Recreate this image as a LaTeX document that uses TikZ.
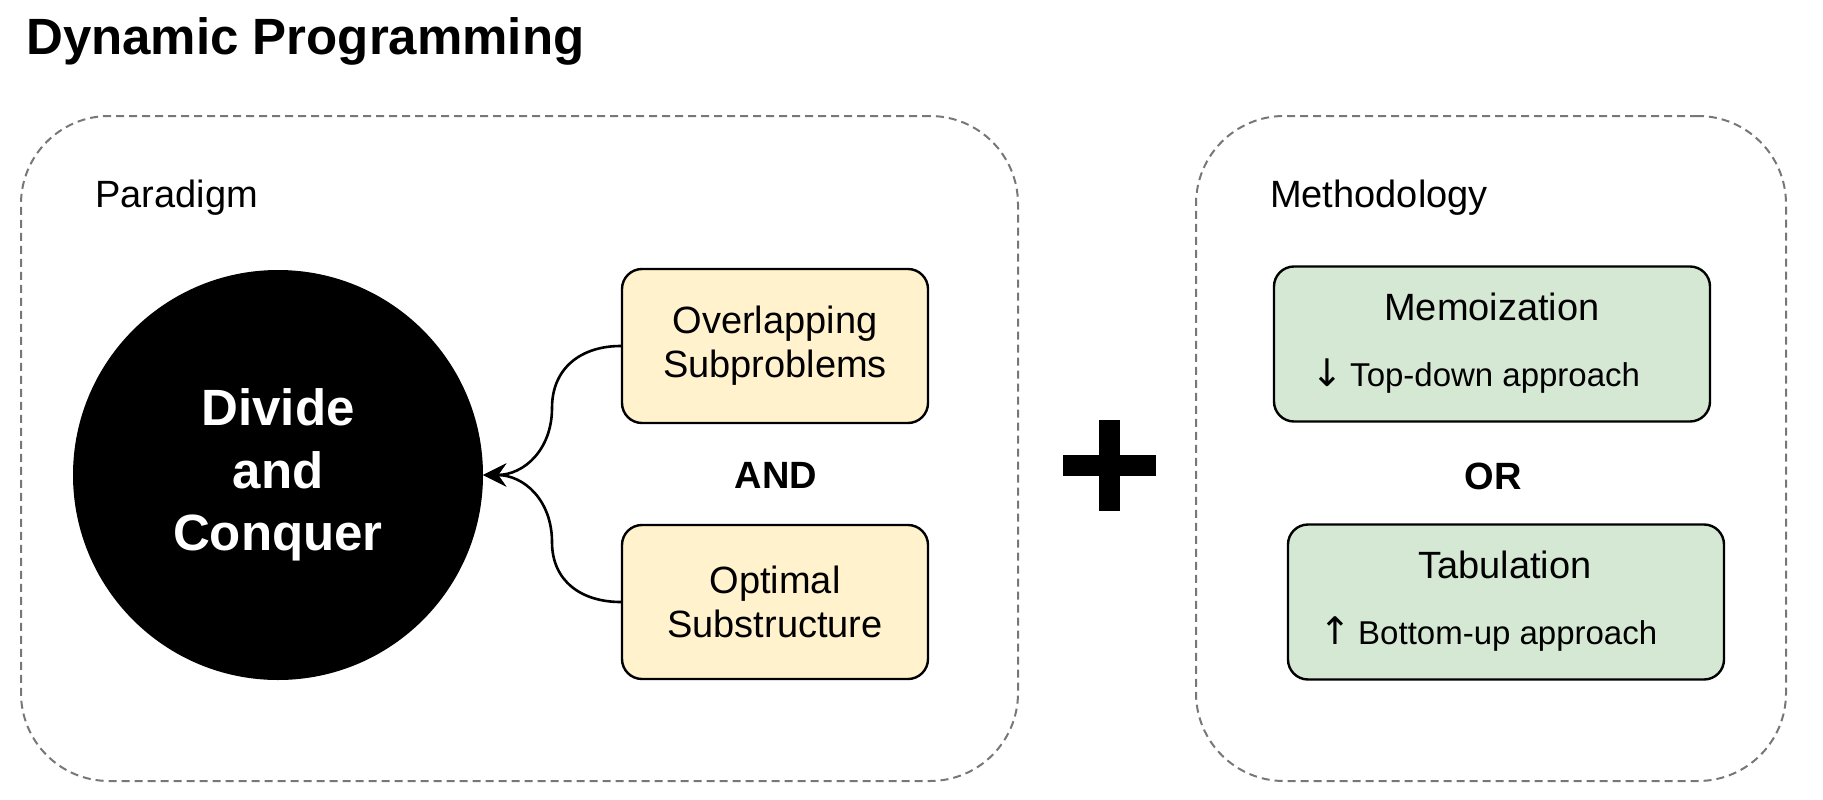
\documentclass[tikz,border=0pt]{standalone}
\usepackage{fontspec}
\setmainfont{Liberation Sans}
\newfontfamily\arrowfont{DejaVu Sans}
\usetikzlibrary{arrows.meta}
\definecolor{dashgray}{HTML}{777777}
\definecolor{yfill}{HTML}{FFF2CC}
\definecolor{gfill}{HTML}{D5E8D4}
\begin{document}
\begin{tikzpicture}[x=1pt,y=-1pt,
  panel/.style={draw=dashgray, line width=2pt, dash pattern=on 8pt off 5pt, rounded corners=88pt, inner sep=0pt},
  ybox/.style={draw=black, line width=2.4pt, fill=yfill, rounded corners=20pt, minimum width=306pt, minimum height=154pt, align=center, font=\fontsize{38}{44}\selectfont, inner sep=0pt},
  gbox/.style={draw=black, line width=2.4pt, fill=gfill, rounded corners=20pt, minimum width=436pt, minimum height=155pt, inner sep=0pt},
  lbl/.style={font=\fontsize{38}{44}\selectfont, inner sep=0pt},
  smalllbl/.style={font=\fontsize{33}{38}\selectfont, inner sep=0pt},
  boldlbl/.style={font=\fontsize{38}{44}\selectfont\bfseries, inner sep=0pt},
  conn/.style={draw=black, line width=2.6pt, -{Stealth[length=23pt,width=23pt,inset=8pt]}},
]
\useasboundingbox (0,0) rectangle (1823,800);
\node[anchor=base west, font=\fontsize{51}{60}\selectfont\bfseries, inner sep=0pt] (title) at (26,55) {Dynamic Programming};
% panels
\node[panel, minimum width=997pt, minimum height=665pt] (left) at (519.5,448.5) {};
\node[panel, minimum width=590pt, minimum height=665pt] (right) at (1491,448.5) {};
\node[lbl, anchor=base west] (par) at (95,207) {Paradigm};
\node[lbl, anchor=base west] (meth) at (1270,207) {Methodology};
% left content
\node[circle, fill=black, minimum size=410pt, inner sep=0pt, text=white, align=center, font=\fontsize{51}{62.5}\selectfont\bfseries] (dc) at (278,475) {Divide\\and\\Conquer};
\node[ybox] (ov) at (775,346) {Overlapping\\Subproblems};
\node[ybox] (os) at (775,602) {Optimal\\Substructure};
\node[boldlbl] (and) at (776,475) {AND};
\coordinate (m1) at (552,408);
\coordinate (m2) at (552,542);
\draw[conn] (ov.west) to[out=180,in=90,looseness=1.1] (m1) to[out=-90,in=0,looseness=1.1] (dc.east);
\draw[conn] (os.west) to[out=180,in=-90,looseness=1.1] (m2) to[out=90,in=0,looseness=1.1] (dc.east);
% plus
\fill[black] (1063,455) rectangle (1156,476);
\fill[black] (1099,420) rectangle (1120,511);
% right content
\node[gbox] (mem) at (1492,344) {};
\node[gbox] (tab) at (1506,602) {};
\node[lbl, anchor=base] (memt) at (1492,320) {Memoization};
\node[smalllbl, anchor=base west] (memd) at (1311,386) {{\arrowfont\fontsize{38}{40}\selectfont ↓}\hspace{-2pt} Top-down approach};
\node[boldlbl] (or) at (1493,476) {OR};
\node[lbl, anchor=base] (tabt) at (1505,578) {Tabulation};
\node[smalllbl, anchor=base west] (tabd) at (1319,644) {{\arrowfont\fontsize{38}{40}\selectfont ↑}\hspace{-2pt} Bottom-up approach};
\end{tikzpicture}
\end{document}
